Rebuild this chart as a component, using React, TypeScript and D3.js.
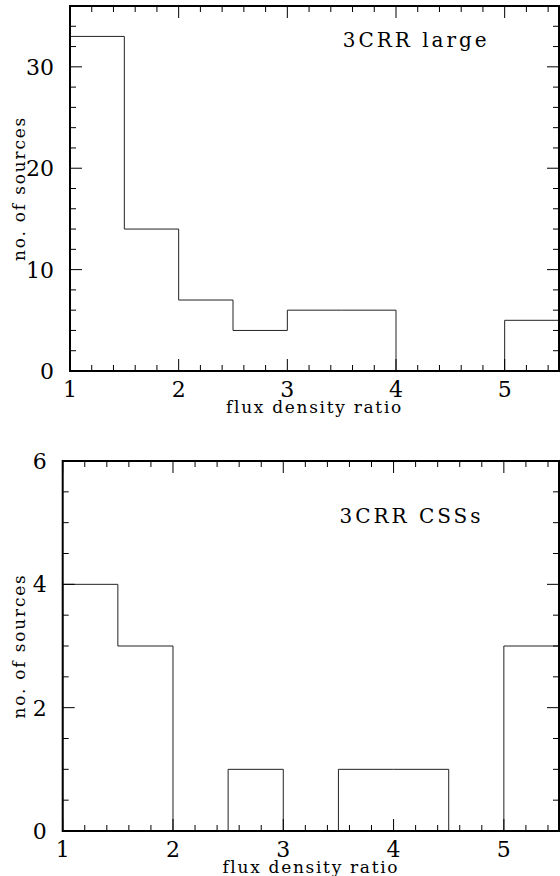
import * as d3 from "d3";

const BIN_EDGES = [1, 1.5, 2, 2.5, 3, 3.5, 4, 4.5, 5, 5.5];
const LARGE_COUNTS = [33, 14, 7, 4, 6, 6, 0, 0, 5];
const CSS_COUNTS = [4, 3, 0, 1, 0, 1, 1, 0, 3];
const X_TICKS = [1, 2, 3, 4, 5];
const LARGE_Y_TICKS = [0, 10, 20, 30];
const CSS_Y_TICKS = [0, 2, 4, 6];

const W = 560;
const H = 876;
const FONT = "DejaVu Serif";
const MAJ = 12;
const MIN = 6;

type PanelProps = {
  counts: number[];
  yTicks: number[];
  yMax: number;
  yMinorStep: number;
  title: string;
  left: number;
  right: number;
  top: number;
  bottom: number;
  titleY: number;
};

function Panel({ counts, yTicks, yMax, yMinorStep, title, left, right, top, bottom, titleY }: PanelProps) {
  const x = d3.scaleLinear().domain([1, 5.5]).range([left, right]);
  const y = d3.scaleLinear().domain([0, yMax]).range([bottom, top]);

  const xMinor = d3.range(1, 5.5 + 1e-6, 0.2).filter((v) => Math.abs(v - Math.round(v)) > 1e-6);
  const yMinor = d3.range(0, yMax + 1e-6, yMinorStep).filter((v) => !yTicks.some((t) => Math.abs(t - v) < 1e-6));

  // step outline of the histogram
  const pts: [number, number][] = [[BIN_EDGES[0], 0]];
  counts.forEach((c, i) => pts.push([BIN_EDGES[i], c]));
  pts.push([BIN_EDGES[BIN_EDGES.length - 1], counts[counts.length - 1]]);
  pts.push([BIN_EDGES[BIN_EDGES.length - 1], 0]);
  const line = d3
    .line<[number, number]>()
    .x((d) => x(d[0]))
    .y((d) => y(d[1]))
    .curve(d3.curveStepAfter);

  const midX = (left + right) / 2;
  const midY = (top + bottom) / 2;

  return (
    <g>
      <path d={line(pts) ?? ""} fill="none" stroke="#222" strokeWidth={1} />
      <g stroke="#000" strokeWidth={1}>
        {X_TICKS.map((t) => (
          <g key={`xm${t}`}>
            <line x1={x(t)} x2={x(t)} y1={bottom} y2={bottom - MAJ} />
            <line x1={x(t)} x2={x(t)} y1={top} y2={top + MAJ} />
          </g>
        ))}
        {xMinor.map((t, i) => (
          <g key={`xn${i}`}>
            <line x1={x(t)} x2={x(t)} y1={bottom} y2={bottom - MIN} />
            <line x1={x(t)} x2={x(t)} y1={top} y2={top + MIN} />
          </g>
        ))}
        {yTicks.map((t) => (
          <g key={`ym${t}`}>
            <line x1={left} x2={left + MAJ} y1={y(t)} y2={y(t)} />
            <line x1={right} x2={right - MAJ} y1={y(t)} y2={y(t)} />
          </g>
        ))}
        {yMinor.map((t, i) => (
          <g key={`yn${i}`}>
            <line x1={left} x2={left + MIN} y1={y(t)} y2={y(t)} />
            <line x1={right} x2={right - MIN} y1={y(t)} y2={y(t)} />
          </g>
        ))}
      </g>
      <rect x={left} y={top} width={right - left} height={bottom - top} fill="none" stroke="#000" strokeWidth={2} />

      <g style={{ fontFamily: FONT }} fontSize={22} fill="#000">
        {X_TICKS.map((t) => (
          <text key={`xl${t}`} x={x(t)} y={bottom + 26} textAnchor="middle">
            {t}
          </text>
        ))}
        {yTicks.map((t) => (
          <text key={`yl${t}`} x={left - 16} y={y(t) + 8} textAnchor="end">
            {t}
          </text>
        ))}
      </g>

      <text
        x={midX}
        y={bottom + 42}
        textAnchor="middle"
        style={{ fontFamily: FONT }}
        fontSize={17}
        letterSpacing={1.7}
      >
        flux density ratio
      </text>
      <text
        transform={`translate(25,${midY}) rotate(-90)`}
        textAnchor="middle"
        style={{ fontFamily: FONT }}
        fontSize={17}
        letterSpacing={1.8}
      >
        no. of sources
      </text>
      <text x={x(3.5) + 1} y={titleY} style={{ fontFamily: FONT }} fontSize={20} letterSpacing={3}>
        {title}
      </text>
    </g>
  );
}

export default function App() {
  return (
    <div style={{ position: "absolute", left: 0, top: 0 }}>
      <svg width={W} height={H} viewBox={`0 0 ${W} ${H}`} style={{ display: "block", background: "#fff" }}>
        <Panel
          counts={LARGE_COUNTS}
          yTicks={LARGE_Y_TICKS}
          yMax={36}
          yMinorStep={2}
          title="3CRR large"
          left={70}
          right={559}
          top={6}
          bottom={371}
          titleY={47}
        />
        <Panel
          counts={CSS_COUNTS}
          yTicks={CSS_Y_TICKS}
          yMax={6}
          yMinorStep={0.5}
          title="3CRR CSSs"
          left={62.7}
          right={559}
          top={461}
          bottom={831}
          titleY={523}
        />
      </svg>
    </div>
  );
}
